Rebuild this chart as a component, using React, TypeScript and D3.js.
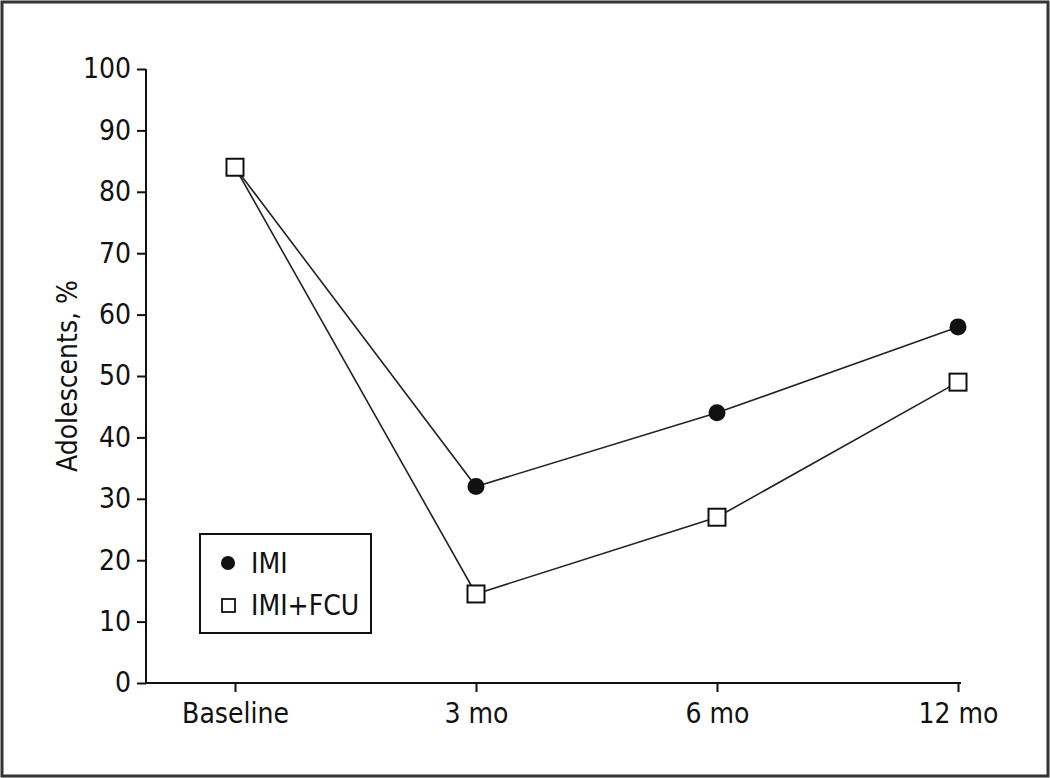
import * as d3 from "d3";
import { useRef, useEffect } from "react";

const timepoints = ["Baseline", "3 mo", "6 mo", "12 mo"];
const imiValues = [84, 32, 44, 58];
const imiFcuValues = [84, 14.5, 27, 49];
const yTicks = [0, 10, 20, 30, 40, 50, 60, 70, 80, 90, 100];
const seriesNames = ["IMI", "IMI+FCU"];

const FONT = "'Liberation Sans Narrow', 'Arial Narrow', 'DejaVu Sans Condensed', sans-serif";

export default function App({
  width = 1050,
  height = 778,
  marginTop = 69,
  marginBottom = 95,
  axisLeft = 146,
}) {
  const gx = useRef<SVGGElement>(null);
  const gy = useRef<SVGGElement>(null);

  const x = d3.scalePoint<string>().domain(timepoints).range([235, 958]);
  const y = d3.scaleLinear().domain([0, 100]).range([height - marginBottom, marginTop]);

  const line = d3
    .line<number>()
    .x((_, i) => x(timepoints[i]) as number)
    .y((d) => y(d));

  useEffect(() => {
    const g = d3.select(gx.current);
    g.selectAll("*").remove();
    g.call(d3.axisBottom(x).tickSize(9).tickPadding(11));
    g.select(".domain").remove();
    g.selectAll("line").attr("stroke", "#111").attr("stroke-width", 2);
    g.selectAll("text")
      .attr("font-family", FONT)
      .attr("font-size", 28)
      .attr("fill", "#111");
  }, []);

  useEffect(() => {
    const g = d3.select(gy.current);
    g.selectAll("*").remove();
    g.call(d3.axisLeft(y).tickValues(yTicks).tickSize(9).tickPadding(6));
    g.select(".domain").remove();
    g.selectAll("line").attr("stroke", "#111").attr("stroke-width", 2);
    g.selectAll("text")
      .attr("font-family", FONT)
      .attr("font-size", 28)
      .attr("fill", "#111");
  }, []);

  const lastX = (x(timepoints[timepoints.length - 1]) as number) + 3;
  const sq = 17;

  return (
    <div style={{ position: "absolute", left: 0, top: 0 }}>
      <svg width={width} height={height} style={{ display: "block", background: "#fff" }}>
        <rect x={2} y={2} width={width - 4} height={height - 4} fill="#fff" stroke="#333" strokeWidth={3} />

        <g ref={gx} transform={`translate(0,${y(0)})`} />
        <g ref={gy} transform={`translate(${axisLeft},0)`} />
        <line x1={axisLeft} x2={axisLeft} y1={y(100)} y2={y(0) + 1} stroke="#111" strokeWidth={2} />
        <line x1={axisLeft} x2={lastX} y1={y(0)} y2={y(0)} stroke="#111" strokeWidth={2} />

        <text
          transform={`translate(77,${(y(0) + y(100)) / 2}) rotate(-90)`}
          textAnchor="middle"
          fontFamily={FONT}
          fontSize={28}
          fill="#111"
        >
          Adolescents, %
        </text>

        <path d={line(imiValues) ?? ""} fill="none" stroke="#222" strokeWidth={1.6} />
        <path d={line(imiFcuValues) ?? ""} fill="none" stroke="#222" strokeWidth={1.6} />

        {imiValues.map((v, i) => (
          <circle key={"c" + i} cx={x(timepoints[i])} cy={y(v)} r={8.5} fill="#111" />
        ))}
        {imiFcuValues.map((v, i) => (
          <rect
            key={"s" + i}
            x={(x(timepoints[i]) as number) - sq / 2}
            y={y(v) - sq / 2}
            width={sq}
            height={sq}
            fill="#fff"
            stroke="#111"
            strokeWidth={2}
          />
        ))}

        <g transform="translate(200,534)">
          <rect x={0} y={0} width={171} height={99} fill="#fff" stroke="#111" strokeWidth={2} />
          <circle cx={28} cy={29} r={7} fill="#111" />
          <text x={51} y={29} dy="0.35em" fontFamily={FONT} fontSize={28} fill="#111">
            {seriesNames[0]}
          </text>
          <rect x={22} y={65} width={13} height={13} fill="#fff" stroke="#111" strokeWidth={1.8} />
          <text x={51} y={71} dy="0.35em" fontFamily={FONT} fontSize={28} fill="#111">
            {seriesNames[1]}
          </text>
        </g>
      </svg>
    </div>
  );
}
